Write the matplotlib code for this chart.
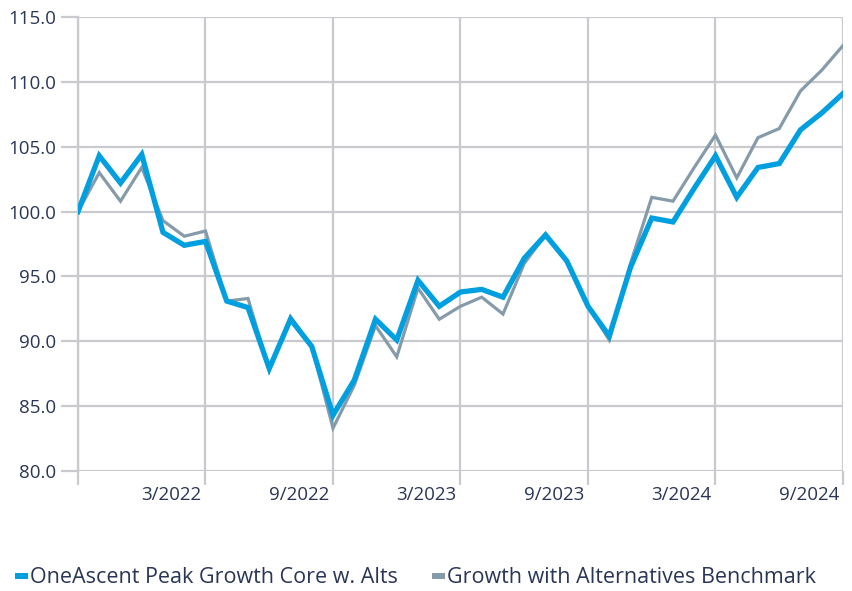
import matplotlib
matplotlib.use("Agg")
import matplotlib.pyplot as plt
import matplotlib.transforms as mtransforms
from matplotlib.lines import Line2D

months = ["9/2021", "10/2021", "11/2021", "12/2021", "1/2022", "2/2022",
          "3/2022", "4/2022", "5/2022", "6/2022", "7/2022", "8/2022",
          "9/2022", "10/2022", "11/2022", "12/2022", "1/2023", "2/2023",
          "3/2023", "4/2023", "5/2023", "6/2023", "7/2023", "8/2023",
          "9/2023", "10/2023", "11/2023", "12/2023", "1/2024", "2/2024",
          "3/2024", "4/2024", "5/2024", "6/2024", "7/2024", "8/2024",
          "9/2024"]

peak_growth = [100.0, 104.3, 102.2, 104.4, 98.4, 97.4,
               97.7, 93.1, 92.6, 87.9, 91.7, 89.6,
               84.3, 87.0, 91.7, 90.1, 94.7, 92.7,
               93.8, 94.0, 93.4, 96.4, 98.2, 96.2,
               92.7, 90.4, 95.7, 99.5, 99.2, 101.8,
               104.3, 101.1, 103.4, 103.7, 106.3, 107.6,
               109.1]

benchmark = [100.0, 103.0, 100.8, 103.4, 99.3, 98.1,
             98.5, 93.1, 93.3, 87.8, 91.9, 89.6,
             83.3, 86.6, 91.2, 88.8, 94.1, 91.7,
             92.7, 93.4, 92.1, 96.0, 98.2, 96.2,
             92.7, 90.1, 96.0, 101.1, 100.8, 103.4,
             105.9, 102.6, 105.7, 106.4, 109.3, 110.9,
             112.8]

tick_months = ["9/2021", "3/2022", "9/2022", "3/2023", "9/2023", "3/2024", "9/2024"]
tick_labels = ["", "3/2022", "9/2022", "3/2023", "9/2023", "3/2024", "9/2024"]
y_ticks = [80, 85, 90, 95, 100, 105, 110, 115]

series_names = ["OneAscent Peak Growth Core w. Alts",
                "Growth with Alternatives Benchmark"]

BLUE = "#009FDF"
GRAY = "#869BA9"
GRID = "#C9CACE"
TEXT = "#2A3655"

plt.rcParams['font.family'] = ['Open Sans', 'DejaVu Sans']

fig = plt.figure(figsize=(8.53, 5.91), dpi=100)
ax = fig.add_axes([78/853, 1 - 471/591, (843 - 78)/853, (471 - 17)/591])

x = list(range(len(months)))
ax.plot(x, benchmark, color=GRAY, lw=2.3, solid_joinstyle='miter', zorder=3)
ax.plot(x, peak_growth, color=BLUE, lw=3.8, solid_joinstyle='miter', zorder=4)

ax.set_xlim(0, len(months) - 1)
ax.set_ylim(80, 115)

ax.set_xticks([months.index(m) for m in tick_months])
ax.set_xticklabels(tick_labels, ha='right')
ax.set_yticks(y_ticks)
ax.set_yticklabels([f"{v:.1f}" for v in y_ticks])

ax.grid(True, color=GRID, lw=1.6, zorder=0)
for s in ["top", "right", "bottom"]:
    ax.spines[s].set_visible(False)
ax.spines["left"].set_color(GRID)
ax.spines["left"].set_linewidth(1.6)

ax.tick_params(axis='y', length=12, width=1.6, color=GRID, labelsize=13.5,
               labelcolor=TEXT, pad=4)
ax.tick_params(axis='x', length=10, width=1.6, color=GRID, labelsize=13.5,
               labelcolor=TEXT, pad=1)
offset = mtransforms.ScaledTranslation(-4/100, 0, fig.dpi_scale_trans)
for lbl in ax.get_xticklabels():
    lbl.set_transform(lbl.get_transform() + offset)

handles = [Line2D([0], [0], color=BLUE, lw=4.3, solid_capstyle='butt'),
           Line2D([0], [0], color=GRAY, lw=4.3, solid_capstyle='butt')]
fig.legend(handles, series_names, loc='center', bbox_to_anchor=(0.487, 0.022),
           ncol=2, frameon=False, fontsize=15.5, labelcolor=TEXT,
           handlelength=0.6, handletextpad=0.1, columnspacing=1.6)

fig.savefig("out.png", dpi=100)
